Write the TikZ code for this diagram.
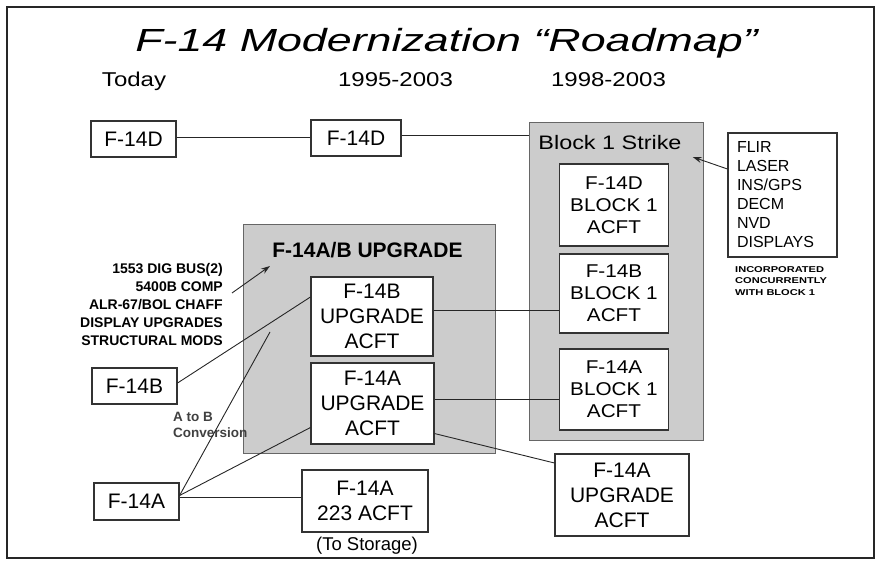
\documentclass[tikz,border=0pt]{standalone}
\usepackage{fontspec}
\setmainfont{Liberation Sans}
\newfontfamily\titlefont[FakeStretch=1.4]{Liberation Sans}
\newfontfamily\widefont[FakeStretch=1.2]{Liberation Sans}
\newfontfamily\blockfont[FakeStretch=1.12]{Liberation Sans}
\newfontfamily\tinyfont[FakeStretch=1.3]{Liberation Sans}
\usetikzlibrary{arrows.meta}

\tikzset{
  acft/.style={draw=black!80, line width=1.1pt, fill=white, align=center, inner sep=0pt,
    font=\fontsize{21}{25}\selectfont},
  blockacft/.style={acft, font=\blockfont\fontsize{18.5}{22}\selectfont},
  greybox/.style={draw=black!60, line width=0.9pt, fill=black!20},
  link/.style={line width=0.9pt, draw=black!85},
  note/.style={inner sep=0pt, font=\bfseries\fontsize{14}{18.2}\selectfont}
}

\begin{document}
\begin{tikzpicture}[x=1pt,y=-1pt]
\useasboundingbox (0,0) rectangle (877,561);

% Outer frame
\draw[line width=2pt, black!85] (7,7) rectangle (874,558);

% Heading and time columns
\node[anchor=base, font=\titlefont\itshape\fontsize{32}{36}\selectfont] (title) at (446.5,52) {F-14 Modernization “Roadmap”};
\node[anchor=base, font=\widefont\fontsize{20}{24}\selectfont] (today) at (134,87) {Today};
\node[anchor=base, font=\widefont\fontsize{20}{24}\selectfont] (mid) at (395.5,87) {1995-2003};
\node[anchor=base, font=\widefont\fontsize{20}{24}\selectfont] (late) at (608.5,87) {1998-2003};

% Block 1 Strike group
\node[greybox, minimum width=174pt, minimum height=318pt] (strikegrp) at (616,281) {};
\node[font=\widefont\fontsize{19.5}{22}\selectfont, inner sep=1pt] (strike) at (610,143) {Block 1 Strike};
\foreach \v/\y/\h in {D/205/82, B/293.5/79, A/389.5/81}
  \node[blockacft, minimum width=109pt, minimum height=\h pt] (blk\v) at (614,\y) {F-14\v\\BLOCK 1\\ACFT};

% Sensors box
\node[acft, align=left, text width=91pt, inner xsep=9pt, minimum height=124pt,
  font=\fontsize{16}{19}\selectfont] (sensors) at (782.5,195) {FLIR\\LASER\\INS/GPS\\DECM\\NVD\\DISPLAYS};
\node[anchor=north west, align=left, inner sep=0pt,
  font=\tinyfont\bfseries\fontsize{8.5}{11.5}\selectfont] (concur) at (735,266) {INCORPORATED\\CONCURRENTLY\\WITH BLOCK 1};
\draw[link, -{Stealth[length=9pt,width=6pt]}] ([yshift=26pt]sensors.west) -- ([shift={(10pt,-14pt)}]strike.east);

% F-14D line
\node[acft, minimum width=85pt, minimum height=36pt] (d14now) at (133.5,139) {F-14D};
\node[acft, minimum width=90pt, minimum height=36pt] (d14mid) at (356,138) {F-14D};
\draw[link] ([yshift=2pt]d14now.east) -- ([yshift=2pt]d14now.east -| d14mid.west);
\draw[link] ([yshift=3pt]d14mid.east) -- ([yshift=3pt]d14mid.east -| strikegrp.west);

% F-14A/B upgrade group
\node[greybox, minimum width=252pt, minimum height=229pt] (upgrp) at (369,338.5) {};
\node[font=\bfseries\fontsize{21}{24}\selectfont] (uptitle) at (367.5,250) {F-14A/B UPGRADE};
\node[acft, minimum width=122pt, minimum height=79pt] (upB) at (372,316.5) {F-14B\\UPGRADE\\ACFT};
\node[acft, minimum width=123pt, minimum height=81pt] (upA) at (372.5,403.5) {F-14A\\UPGRADE\\ACFT};

\node[note, align=right, anchor=east] (mods) at (223,304.5) {1553 DIG BUS(2)\\5400B COMP\\ALR-67/BOL CHAFF\\DISPLAY UPGRADES\\STRUCTURAL MODS};
\coordinate (modtip) at (270,266);
\draw[link, -{Stealth[length=9pt,width=6pt]}] ([shift={(9pt,11.5pt)}]mods.east) -- (modtip);

% Today's B and A models
\node[acft, minimum width=85pt, minimum height=36pt] (b14now) at (134.5,386) {F-14B};
\node[acft, minimum width=85pt, minimum height=37pt] (a14now) at (136.5,501.5) {F-14A};
\node[acft, minimum width=126pt, minimum height=62pt] (a14store) at (365,501) {F-14A\\223 ACFT};
\node[font=\fontsize{18.5}{22}\selectfont] (storage) at (367,546) {(To Storage)};
\node[acft, minimum width=134pt, minimum height=82pt] (a14right) at (622,495) {F-14A\\UPGRADE\\ACFT};
\node[note, text=black!75, align=left, anchor=west, font=\bfseries\fontsize{13.5}{16}\selectfont] (atob) at (173,425) {A to B\\Conversion};
\coordinate (convend) at (270,332);

\draw[link] ([yshift=3pt]b14now.east) -- ([yshift=19.5pt]upB.west);
\draw[link] ([yshift=6pt]a14now.east) -- (convend);
\draw[link] ([yshift=6pt]a14now.east) -- ([yshift=-24pt]upA.west);
\draw[link] ([yshift=4pt]a14now.east) -- ([yshift=4pt]a14now.east -| a14store.west);
\draw[link] ([yshift=6.5pt]upB.east) -- ([yshift=6.5pt]upB.east -| blkB.west);
\draw[link] ([yshift=4.5pt]upA.east) -- ([yshift=4.5pt]upA.east -| blkA.west);
\draw[link] ([yshift=11pt]upA.south east) -- ([yshift=32pt]a14right.west);
\end{tikzpicture}
\end{document}
